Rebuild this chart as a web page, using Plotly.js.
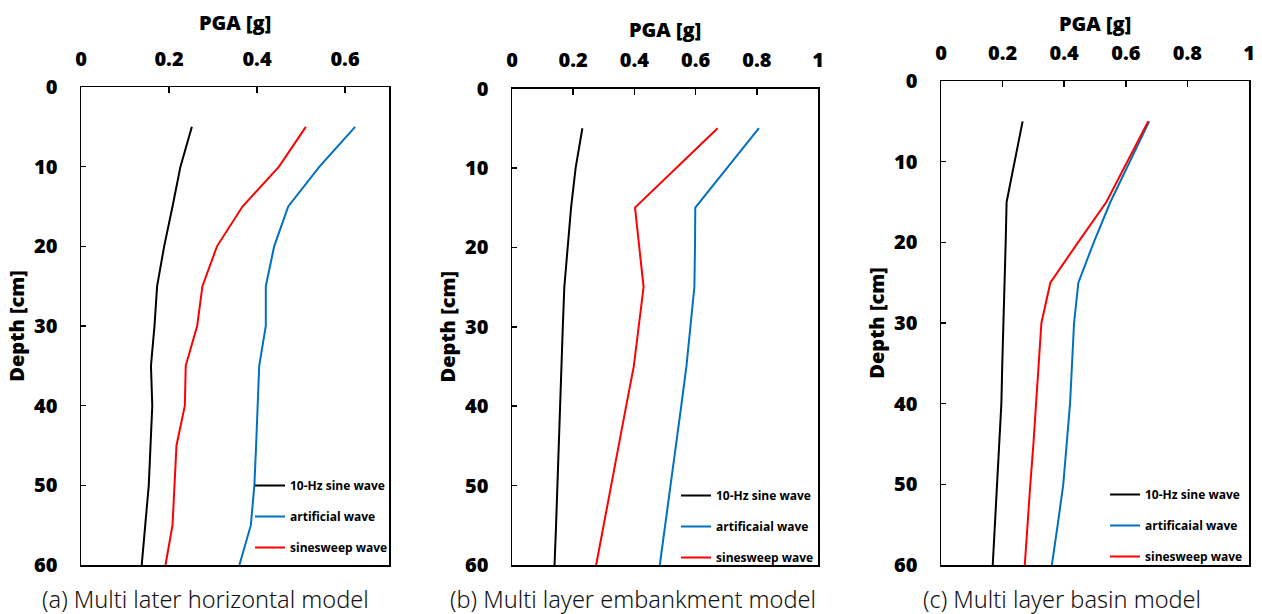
<!DOCTYPE html>
<html>
<head>
<meta charset="utf-8">
<script src="https://cdn.plot.ly/plotly-3.0.1.min.js"></script>
<style>
html,body{margin:0;padding:0;background:#fff;}
#chart{width:1262px;height:614px;}
</style>
</head>
<body>
<div id="chart"></div>
<script>
// ---- data ----
const depth = [5, 10, 15, 20, 25, 30, 35, 40, 45, 50, 55, 60];

// (a) Multi later horizontal model
const sineA  = [0.252, 0.226, 0.208, 0.189, 0.173, 0.167, 0.159, 0.162, 0.158, 0.154, 0.146, 0.138];
const artA   = [0.623, 0.542, 0.471, 0.439, 0.420, 0.420, 0.405, 0.402, 0.398, 0.394, 0.386, 0.360];
const sweepA = [0.511, 0.450, 0.367, 0.309, 0.276, 0.264, 0.238, 0.236, 0.217, 0.213, 0.208, 0.192];

// (b) Multi layer embankment model
const sineB  = [0.230, 0.208, 0.193, 0.182, 0.171, 0.166, 0.162, 0.157, 0.153, 0.148, 0.144, 0.139];
const artB   = [0.807, 0.703, 0.599, 0.598, 0.596, 0.583, 0.570, 0.553, 0.535, 0.518, 0.500, 0.483];
const sweepB = [0.672, 0.537, 0.402, 0.416, 0.430, 0.414, 0.398, 0.373, 0.348, 0.324, 0.300, 0.275];

// (c) Multi layer basin model
const sineC  = [0.265, 0.239, 0.213, 0.210, 0.206, 0.201, 0.199, 0.196, 0.189, 0.182, 0.175, 0.168];
const artC   = [0.676, 0.613, 0.550, 0.496, 0.446, 0.432, 0.426, 0.419, 0.408, 0.397, 0.379, 0.360];
const sweepC = [0.673, 0.605, 0.537, 0.445, 0.355, 0.326, 0.318, 0.310, 0.300, 0.290, 0.281, 0.272];

const namesA = ["10-Hz sine wave", "artificial wave", "sinesweep wave"];
const namesBC = ["10-Hz sine wave", "artificaial wave", "sinesweep wave"];
const captions = ["(a) Multi later horizontal model", "(b) Multi layer embankment model", "(c) Multi layer basin model"];
const xMax = [0.7, 1, 1];
const xTitle = "PGA [g]";
const yTitle = "Depth [cm]";

const colors = ["#000000", "#0070C0", "#FF0000"];

// ---- build ----
const W = 1262, H = 614;
const panels = [
  {series:[sineA, artA, sweepA], names:namesA, px:[81, 389], py:[87, 565], leg:[250, 471], xst:8, cap:205},
  {series:[sineB, artB, sweepB], names:namesBC, px:[512, 818], py:[88.5, 565], leg:[676, 481], xst:3, cap:633},
  {series:[sineC, artC, sweepC], names:namesBC, px:[941, 1249], py:[81, 565], leg:[1105, 480], xst:1, cap:1062}
];

const bold = {family: "Open Sans, sans-serif", size: 20, color: "#000", weight: 800};
const traces = [];
const layout = {
  width: W, height: H,
  margin: {l:0, r:0, t:0, b:0},
  paper_bgcolor: "#fff", plot_bgcolor: "#fff",
  showlegend: true,
  annotations: []
};

panels.forEach((p, i) => {
  const sfx = i === 0 ? "" : String(i + 1);
  const xa = "x" + sfx, ya = "y" + sfx;
  const legId = "legend" + sfx;
  p.series.forEach((s, k) => {
    traces.push({
      type: "scatter", mode: "lines",
      x: s, y: depth,
      xaxis: xa, yaxis: ya,
      name: p.names[k],
      legend: legId,
      legendgroup: "g" + i + "_" + k,
      line: {color: colors[k], width: 2},
      hoverinfo: "x+y"
    });
  });
  layout["xaxis" + sfx] = {
    domain: [p.px[0] / W, p.px[1] / W],
    anchor: ya,
    side: "top",
    range: [0, xMax[i]],
    dtick: 0.2, tick0: 0,
    ticks: "inside", ticklen: 6, tickwidth: 1.5, tickcolor: "#000",
    showline: true, mirror: true, linecolor: "#000", linewidth: 1.5,
    showgrid: false, zeroline: false,
    tickfont: bold,
    ticklabelstandoff: 12,
    title: {text: xTitle, font: bold, standoff: p.xst},
    fixedrange: true
  };
  layout["yaxis" + sfx] = {
    domain: [1 - p.py[1] / H, 1 - p.py[0] / H],
    anchor: xa,
    range: [60, 0],
    dtick: 10, tick0: 0,
    ticks: "inside", ticklen: 5, tickwidth: 1.5, tickcolor: "#000",
    showline: true, mirror: true, linecolor: "#000", linewidth: 1.5,
    showgrid: false, zeroline: false,
    tickfont: bold,
    ticklabelstandoff: 18,
    title: {text: yTitle, font: bold, standoff: 4},
    fixedrange: true
  };
  layout[legId] = {
    x: p.leg[0] / W, y: 1 - p.leg[1] / H,
    xanchor: "left", yanchor: "top",
    xref: "paper", yref: "paper",
    bgcolor: "rgba(0,0,0,0)",
    borderwidth: 0,
    font: {family: "Open Sans, sans-serif", size: 12, color: "#000", weight: 700},
    traceorder: "grouped",
    tracegroupgap: 12,
    itemwidth: 30
  };
  layout.annotations.push({
    xref: "paper", yref: "paper",
    x: p.cap / W, y: 1 - 599 / H,
    xanchor: "center", yanchor: "middle",
    text: captions[i], showarrow: false,
    font: {family: "Noto Sans, sans-serif", size: 23.5, color: "#111", weight: 300}
  });
});

Plotly.newPlot("chart", traces, layout, {displayModeBar: false, staticPlot: true});
</script>
</body>
</html>
